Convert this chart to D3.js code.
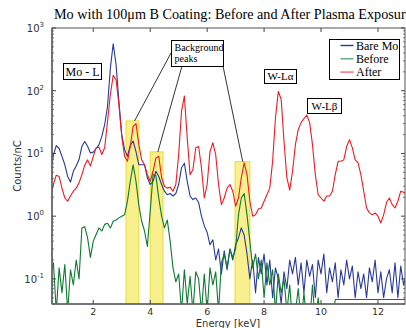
<!DOCTYPE html>
<html><head><meta charset="utf-8">
<script src="https://cdn.jsdelivr.net/npm/d3@7"></script>
<style>body{margin:0;background:#fff}svg{display:block}</style>
</head><body>
<svg id="c" width="406" height="328"></svg>
<script>
// Energy grid (keV) at 0.1 keV steps
const energy = d3.range(0, 126).map(i => +(0.5 + i * 0.1).toFixed(1));
const bareMo = [4.5,9.5,13.3,12,9.0,6.6,4.3,3.5,5.2,6.3,8.0,13,15.5,13,10.2,10.5,12,13.8,18.7,28.7,56,229,560,262,68,20,11.5,9.0,13.4,15.8,10.7,6.6,6.6,6.6,4.1,3.2,3.6,5.2,4.3,3.2,2.5,2.2,2.3,2.1,2.3,3.2,5.9,7.0,3.6,2.1,1.84,1.95,1.65,1.0,0.7,0.55,0.35,0.42,0.2,0.3,0.12,0.28,0.14,0.3,0.2,0.35,0.45,0.65,0.5,0.25,0.1,0.2,0.06,0.22,0.12,0.25,0.08,0.2,0.05,0.15,0.1,0.04,0.13,0.07,0.2,0.12,0.22,0.08,0.18,0.06,0.2,0.11,0.17,0.05,0.2,0.12,0.25,0.06,0.15,0.09,0.18,0.05,0.14,0.08,0.2,0.1,0.16,0.05,0.13,0.07,0.12,0.05,0.15,0.09,0.2,0.06,0.13,0.05,0.1,0.14,0.06,0.18,0.05,0.16,0.08,0.12];
const before = [0.12,0.18,0.03,0.15,0.06,0.17,0.03,0.14,0.08,0.2,0.1,0.65,0.68,0.45,0.22,0.40,0.51,0.65,0.58,0.74,0.77,0.65,0.83,0.87,0.94,1.0,1.05,1.74,3.6,6.6,3.6,1.5,0.83,0.58,0.33,1.2,4.6,4.4,1.95,1.0,0.65,0.87,0.40,0.15,0.09,0.12,0.03,0.14,0.04,0.11,0.03,0.13,0.1,0.03,0.12,0.03,0.15,0.08,0.13,0.03,0.18,0.25,0.15,0.3,0.22,0.3,1.05,1.95,2.3,1.05,0.40,0.15,0.25,0.1,0.2,0.05,0.18,0.08,0.14,0.03,0.12,0.06,0.1,0.03,0.08,0.02,0.03,0.07,0.02,0.06,0.02,0.02,0.08,0.02,0.05,0.02,0.02,0.02,0.02,0.02,0.047,0.047,0.047,0.047,0.047,0.047,0.047,0.047,0.047,0.047,0.047,0.047,0.047,0.047,0.047,0.047,0.047,0.047,0.047,0.047,0.047,0.047,0.047,0.047,0.047,0.047];
const after = [2.0,3.2,4.5,4.3,2.8,1.95,1.73,2.1,2.5,2.8,3.4,4.6,6.5,7.9,6.3,9,12.3,12.6,9.6,12.3,32,87,176,150,60,18.7,9,7.5,12.9,27,30,13.8,7.9,6.6,4.6,3.6,5.2,8.5,9.0,4.1,3.0,2.8,2.9,2.5,3.2,9.6,47,82,17.8,4.6,5.5,12.3,12.9,5.9,1.95,3.2,10.7,14.8,9.6,3.2,1.53,1.95,2.8,3.2,2.5,1.44,1.95,4.1,7.1,4.6,1.73,1.0,1.05,1.3,1.35,1.73,2.2,2.8,7.5,37,97,73,15.5,4.1,2.6,5.2,13.8,24,31,36,41,31,13.8,4.6,2.2,1.95,1.73,2.1,2.1,2.5,4.6,7.5,7.5,7.9,12.9,16.6,12.3,7.9,7.1,4.6,2.5,1.35,1.13,1.05,1.13,1.0,0.78,1.05,1.65,1.95,1.53,1.35,1.73,2.5,2.4,2.2];
const seriesNames = ["Bare Mo", "Before", "After"];
const xTicks = [2, 4, 6, 8, 10, 12];
const yTickExp = [-1, 0, 1, 2, 3];
// background-peak highlight bands: [start keV, end keV, top counts]
const bandStart = [3.15, 4.0, 6.98];
const bandEnd = [3.6, 4.45, 7.5];
const bandTop = [33, 10.6, 7.4];

const svg = d3.select("#c");
const L = 52, R = 405, T = 28, B = 304;
const x = d3.scaleLinear().domain([0.55, 12.95]).range([L, R]);
const y = d3.scaleLog().domain([Math.pow(10, -1.4), 1000]).range([B, T]);
const colors = ["#27399b", "#0d7a30", "#ec1c24"];
const data = [bareMo, before, after];

svg.append("defs").append("clipPath").attr("id", "clip")
  .append("rect").attr("x", L).attr("y", T).attr("width", R - L).attr("height", B - T);

const plot = svg.append("g").attr("clip-path", "url(#clip)");

bandStart.forEach((s, i) => {
  plot.append("rect")
    .attr("x", x(s)).attr("width", x(bandEnd[i]) - x(s))
    .attr("y", y(bandTop[i])).attr("height", B - y(bandTop[i]))
    .attr("fill", "#f8f08e").attr("stroke", "#ecdc2a").attr("stroke-width", 1);
});

const line = d3.line().x((d, i) => x(energy[i])).y(d => y(d));
data.forEach((arr, k) => {
  plot.append("path").datum(arr).attr("d", line)
    .attr("fill", "none").attr("stroke", colors[k]).attr("stroke-width", 1.1)
    .attr("stroke-linejoin", "round");
});

// frame
svg.append("rect").attr("x", L).attr("y", T).attr("width", R - L).attr("height", B - T)
  .attr("fill", "none").attr("stroke", "#555").attr("stroke-width", 1);
svg.append("line").attr("x1", L).attr("x2", R).attr("y1", B).attr("y2", B).attr("stroke", "#666").attr("stroke-width", 1.6);
svg.append("line").attr("x1", L).attr("x2", L).attr("y1", T).attr("y2", B).attr("stroke", "#666").attr("stroke-width", 1.6);

const tickFont = "DejaVu Sans, sans-serif";
xTicks.forEach(t => {
  const xp = x(t);
  svg.append("line").attr("x1", xp).attr("x2", xp).attr("y1", B).attr("y2", B - 4).attr("stroke", "#444");
  svg.append("line").attr("x1", xp).attr("x2", xp).attr("y1", T).attr("y2", T + 4).attr("stroke", "#444");
  svg.append("text").attr("x", xp).attr("y", 315).attr("text-anchor", "middle")
    .attr("font-family", tickFont).attr("font-size", 9.5).attr("fill", "#333").text(t);
});

for (let e = -2; e <= 2; e++) {
  for (let m = 2; m <= 9; m++) {
    const v = m * Math.pow(10, e);
    if (v < y.domain()[0] || v > 1000) continue;
    const yp = y(v);
    svg.append("line").attr("x1", L).attr("x2", L + 2).attr("y1", yp).attr("y2", yp).attr("stroke", "#555").attr("stroke-width", 0.8);
    svg.append("line").attr("x1", R).attr("x2", R - 2).attr("y1", yp).attr("y2", yp).attr("stroke", "#555").attr("stroke-width", 0.8);
  }
}
yTickExp.forEach(e => {
  const yp = y(Math.pow(10, e));
  svg.append("line").attr("x1", L).attr("x2", L + 4).attr("y1", yp).attr("y2", yp).attr("stroke", "#444");
  svg.append("line").attr("x1", R).attr("x2", R - 4).attr("y1", yp).attr("y2", yp).attr("stroke", "#444");
  const t = svg.append("text").attr("x", 44).attr("y", yp + 4).attr("text-anchor", "end")
    .attr("font-family", tickFont).attr("font-size", 10).attr("fill", "#333");
  t.append("tspan").text("10");
  t.append("tspan").attr("dy", -5).attr("font-size", 7).text(String(e));
});

svg.append("text").attr("x", 228).attr("y", 326.5).attr("text-anchor", "middle")
  .attr("font-family", tickFont).attr("font-size", 10).attr("fill", "#333").text("Energy [keV]");
svg.append("text").attr("transform", "translate(21,166) rotate(-90)").attr("text-anchor", "middle")
  .attr("font-family", tickFont).attr("font-size", 10).attr("fill", "#333").text("Counts/nC");

const serif = "Liberation Serif, Times New Roman, serif";
svg.append("text").attr("x", 54).attr("y", 19).attr("font-family", serif).attr("font-size", 14.2)
  .attr("fill", "#000").text("Mo with 100μm B Coating: Before and After Plasma Exposure");

const lg = svg.append("g");
lg.append("rect").attr("x", 329.5).attr("y", 39.5).attr("width", 70).attr("height", 40)
  .attr("fill", "#fff").attr("stroke", "#000").attr("stroke-width", 1);
seriesNames.forEach((n, i) => {
  const yy = 45.5 + i * 13.3;
  lg.append("line").attr("x1", 340.5).attr("x2", 353.5).attr("y1", yy).attr("y2", yy)
    .attr("stroke", colors[i]).attr("stroke-width", 1.4).attr("opacity", i === 0 ? 1 : 0.65);
  lg.append("text").attr("x", 356).attr("y", yy + 4).attr("font-family", serif).attr("font-size", 12)
    .attr("fill", "#000").text(n);
});

function box(x0, y0, w, h) {
  svg.append("rect").attr("x", x0 + 0.5).attr("y", y0 + 0.5).attr("width", w).attr("height", h)
    .attr("fill", "#fff").attr("stroke", "#000").attr("stroke-width", 1);
}
function lead(x1, y1, x2, y2) {
  svg.append("line").attr("x1", x1).attr("y1", y1).attr("x2", x2).attr("y2", y2)
    .attr("stroke", "#000").attr("stroke-width", 0.8);
}
lead(171, 53, x(3.45), y(33));
lead(182, 66, x(4.27), y(10.6));
lead(223, 66, x(7.25), y(7.4));
box(63, 63, 38, 16);
svg.append("text").attr("x", 82.5).attr("y", 75.5).attr("text-anchor", "middle").attr("font-family", serif)
  .attr("font-size", 12).text("Mo - L");
box(171, 40, 52, 26);
svg.append("text").attr("x", 174.5).attr("y", 51).attr("font-family", serif).attr("font-size", 10).text("Background");
svg.append("text").attr("x", 174.5).attr("y", 62).attr("font-family", serif).attr("font-size", 10).text("peaks");
box(264, 69, 32, 14);
svg.append("text").attr("x", 280.5).attr("y", 80).attr("text-anchor", "middle").attr("font-family", serif)
  .attr("font-size", 11).text("W-Lα");
box(307, 98, 34, 15);
svg.append("text").attr("x", 324.5).attr("y", 109.5).attr("text-anchor", "middle").attr("font-family", serif)
  .attr("font-size", 11).text("W-Lβ");
</script>
</body></html>
